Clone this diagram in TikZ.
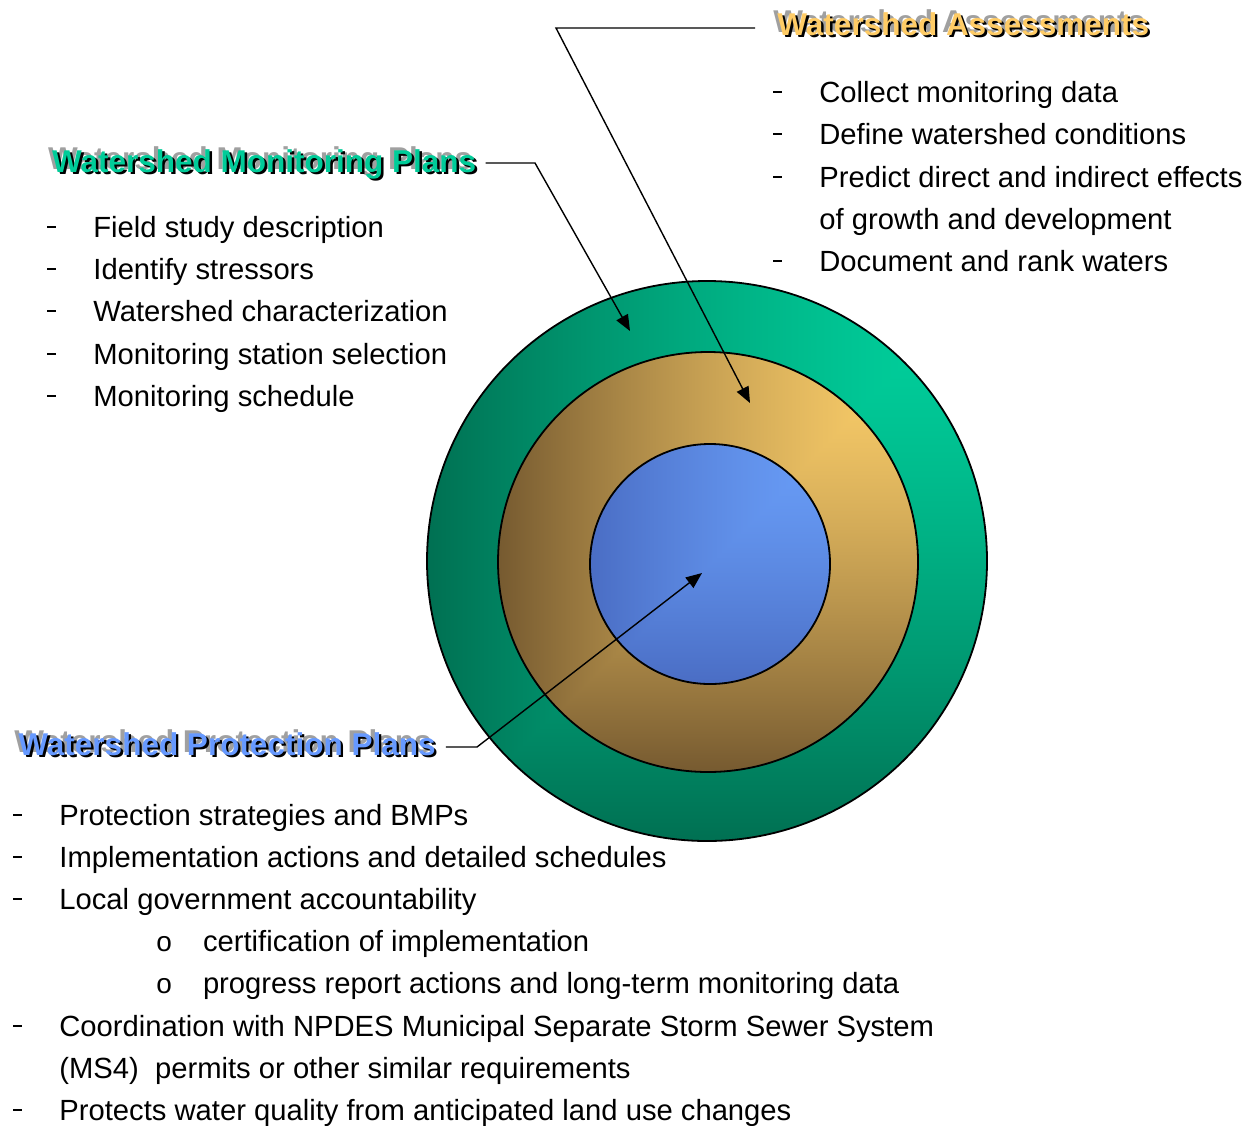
\documentclass[tikz,border=0pt]{standalone}
\usepackage{fontspec}
\setmainfont{Liberation Sans}
\usepackage{tikz}
\usetikzlibrary{arrows.meta}

\definecolor{assesscol}{RGB}{255,204,102}
\definecolor{monitorcol}{RGB}{0,204,153}
\definecolor{protectcol}{RGB}{102,153,255}
\definecolor{shadowgray}{RGB}{160,160,160}

% corner gradients: light at upper right, dark towards left and bottom
\pgfdeclarefunctionalshading{greenshade}{\pgfpoint{-50bp}{-50bp}}{\pgfpoint{50bp}{50bp}}{}{
  25 exch sub exch 25 exch sub 2 copy lt {exch} if pop 50 div
  dup 0 lt {pop 0} if dup 1 gt {pop 1} if 1.4 exp
  dup 0 mul 0 add exch dup -0.3843 mul 0.8235 add exch -0.2980 mul 0.6196 add
}
\pgfdeclarefunctionalshading{goldshade}{\pgfpoint{-50bp}{-50bp}}{\pgfpoint{50bp}{50bp}}{}{
  25 exch sub exch 25 exch sub 2 copy lt {exch} if pop 50 div
  dup 0 lt {pop 0} if dup 1 gt {pop 1} if 1.4 exp
  dup -0.5177 mul 0.9804 add exch dup -0.4510 mul 0.8039 add exch -0.2235 mul 0.4118 add
}
\pgfdeclarefunctionalshading{blueshade}{\pgfpoint{-50bp}{-50bp}}{\pgfpoint{50bp}{50bp}}{}{
  25 exch sub exch 25 exch sub 2 copy lt {exch} if pop 50 div
  dup 0 lt {pop 0} if dup 1 gt {pop 1} if 1.4 exp
  dup -0.1176 mul 0.4078 add exch dup -0.1843 mul 0.6118 add exch -0.1961 mul 0.9647 add
}

\newcommand\wtitle[2]{%
  \rlap{\hspace*{-2pt}\raisebox{1.5pt}{\textcolor{shadowgray}{#2}}}%
  \rlap{\hspace*{1.2pt}\raisebox{-1.2pt}{\textcolor{black}{#2}}}%
  \textcolor{#1}{#2}}
\newcommand\dashmark{\makebox[23pt][l]{\raisebox{4.6pt}{\rule{4.2pt}{0.9pt}}}}
\newcommand\ringmark{\makebox[23.3pt][l]{\fontsize{14pt}{14pt}\selectfont o}}

\tikzset{
  item/.style={anchor=base west, inner sep=0pt, font=\fontsize{14.6pt}{17pt}\selectfont},
  heading/.style={anchor=base west, inner sep=0pt, font=\fontsize{15.75pt}{18pt}\selectfont\bfseries},
  ring/.style={draw=black, line width=0.9pt},
  leader/.style={draw=black, line width=0.7pt, -{Triangle[length=8pt,width=6.5pt]}}
}

\begin{document}
\begin{tikzpicture}[x=0.5pt,y=-0.5pt]
  \useasboundingbox (0,0) rectangle (1251,1125);

  \coordinate (outer) at (707,561);
  \coordinate (middle) at (708,562);
  \coordinate (inner) at (710,564);

  \shade[shading=greenshade] (outer) circle[radius=140pt];
  \draw[ring] (outer) circle[radius=140pt];
  \shade[shading=goldshade] (middle) circle[radius=105pt];
  \draw[ring] (middle) circle[radius=105pt];
  \shade[shading=blueshade] (inner) circle[radius=60pt];
  \draw[ring] (inner) circle[radius=60pt];

  \node[heading] (wa) at (777,35) {\wtitle{assesscol}{Watershed Assessments}};
  \node[item] (a1) at (773,102) {\dashmark Collect monitoring data};
  \node[item] (a2) at (773,144) {\dashmark Define watershed conditions};
  \node[item] (a3) at (773,187) {\dashmark Predict direct and indirect effects};
  \node[item] (a4) at (819,229) {of growth and development};
  \node[item] (a5) at (773,271) {\dashmark Document and rank waters};

  \node[heading] (wmp) at (51.7,172) {\wtitle{monitorcol}{Watershed Monitoring Plans}};
  \node[item] (m1) at (47,237) {\dashmark Field study description};
  \node[item] (m2) at (47,279) {\dashmark Identify stressors};
  \node[item] (m3) at (47,321) {\dashmark Watershed characterization};
  \node[item] (m4) at (47,364) {\dashmark Monitoring station selection};
  \node[item] (m5) at (47,406) {\dashmark Monitoring schedule};

  \node[heading] (wpp) at (18,755) {\wtitle{protectcol}{Watershed Protection Plans}};
  \node[item] (p1) at (13,825) {\dashmark Protection strategies and BMPs};
  \node[item] (p2) at (13,867) {\dashmark Implementation actions and detailed schedules};
  \node[item] (p3) at (13,909) {\dashmark Local government accountability};
  \node[item] (p4) at (156,951) {\ringmark certification of implementation};
  \node[item] (p5) at (156,993) {\ringmark progress report actions and long-term monitoring data};
  \node[item] (p6) at (13,1036) {\dashmark Coordination with NPDES Municipal Separate Storm Sewer System};
  \node[item] (p7) at (59,1078) {(MS4)\ \ permits or other similar requirements};
  \node[item] (p8) at (13,1120) {\dashmark Protects water quality from anticipated land use changes};

  \coordinate (waBend) at (556,28);
  \coordinate (waTip) at (750,403);
  \coordinate (wmpBend) at (535,163);
  \coordinate (wmpTip) at (630,331);
  \coordinate (wppBend) at (477,747);
  \coordinate (wppTip) at (702,573);

  \draw[leader] ([xshift=-11pt]wa.west |- waBend) -- (waBend) -- (waTip);
  \draw[leader] ([xshift=4.5pt]wmp.east |- wmpBend) -- (wmpBend) -- (wmpTip);
  \draw[leader] ([xshift=5pt]wpp.east |- wppBend) -- (wppBend) -- (wppTip);
\end{tikzpicture}
\end{document}
